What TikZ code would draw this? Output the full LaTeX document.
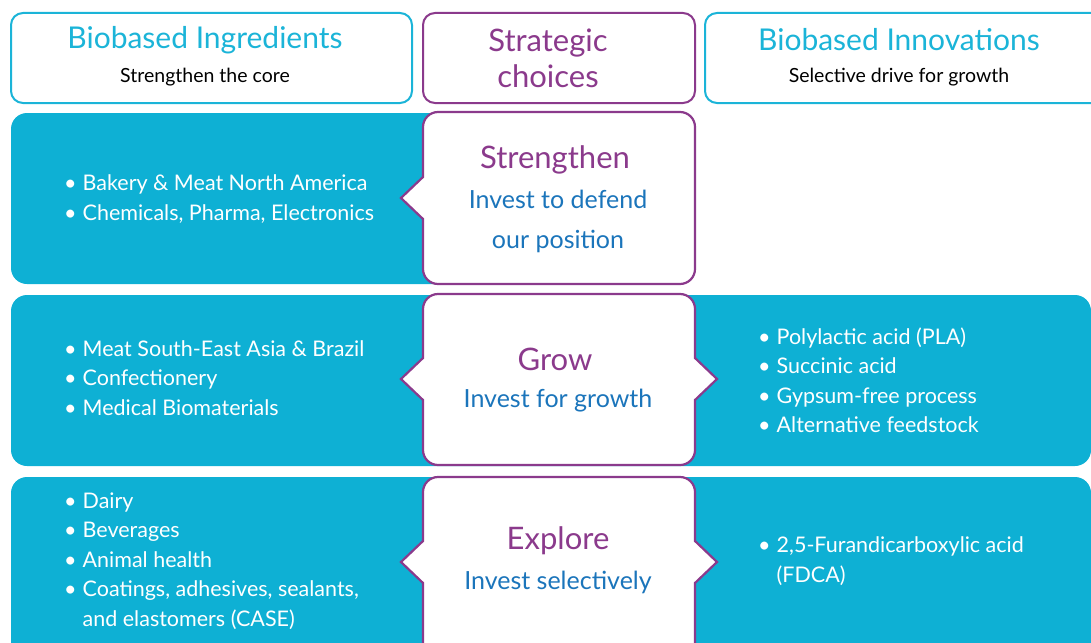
\documentclass[tikz,border=0pt]{standalone}
\usepackage{fontspec}
\setmainfont{Lato}
\usetikzlibrary{positioning}
\definecolor{bandcyan}{RGB}{14,176,212}
\definecolor{headcyan}{RGB}{27,180,216}
\definecolor{choicepurple}{RGB}{139,58,140}
\definecolor{investblue}{RGB}{27,117,187}
\newcommand{\bul}{\textbullet\hspace{6pt}}
\newcommand{\bulgap}{\hphantom{\textbullet\hspace{6pt}}}
\tikzset{
	head box/.style={
		draw=headcyan,
		line width=2pt,
		rounded corners=12pt,
		fill=white
	},
	band/.style={
		fill=bandcyan,
		rounded corners=16pt
	},
	choice box/.style={
		draw=choicepurple,
		line width=2.2pt,
		fill=white
	},
	head title/.style={
		text=headcyan,
		font=\fontsize{30}{32}\selectfont
	},
	head sub/.style={
		text=black,
		font=\fontsize{19.5}{22}\selectfont
	},
	item list/.style={
		text=white,
		align=left,
		anchor=west,
		inner sep=0pt,
		font=\fontsize{21.5}{29.5}\selectfont
	},
	choice title/.style={
		text=choicepurple,
		font=\fontsize{31}{34}\selectfont
	},
	choice sub/.style={
		text=investblue,
		align=center,
		font=\fontsize{25}{40}\selectfont
	}
}

\begin{document}
\begin{tikzpicture}[x=1pt,y=-1pt]
	\useasboundingbox (0,0) rectangle (1091,642);
	\clip (0,0) rectangle (1091,642);

	% headers
	\node[head box, minimum width=401pt, minimum height=90pt] (ingr box) at (211.5,58) {};
	\node[head box, draw=choicepurple, minimum width=272pt, minimum height=90pt] (strat box) at (559,58) {};
	\node[head box, minimum width=405pt, minimum height=90pt] (innov box) at (907.5,58) {};
	\node[head title] (ingr title) at (205,40) {Biobased Ingredients};
	\node[head sub] (ingr sub) at (205,77) {Strengthen the core};
	\node[choice title, align=center, font=\fontsize{31}{36}\selectfont] (strat) at (548,58) {Strategic\\choices};
	\node[head title] (innov title) at (899,40) {Biobased Innovations};
	\node[head sub] (innov sub) at (899,77) {Selective drive for growth};

	% bands
	\fill[band] (11,113) rectangle (560,284);
	\fill[band] (11,295) rectangle (1091,466);
	\fill[band] (11,477) rectangle (1091,665);

	% choice boxes
	\draw[choice box] (438,112) -- (680,112) arc(-90:0:15) -- (695,269) arc(0:90:15)
		-- (438,284) arc(90:180:15) -- (423,219) -- (401,198) -- (423,177) -- (423,127) arc(180:270:15) -- cycle;
	\draw[choice box] (438,294) -- (680,294) arc(-90:0:15) -- (695,358) -- (717,379) -- (695,400) -- (695,450) arc(0:90:15)
		-- (438,465) arc(90:180:15) -- (423,400) -- (401,379) -- (423,358) -- (423,309) arc(180:270:15) -- cycle;
	\draw[choice box] (438,477) -- (680,477) arc(-90:0:15) -- (695,541) -- (717,562) -- (695,583) -- (695,650) arc(0:90:15)
		-- (438,665) arc(90:180:15) -- (423,583) -- (401,562) -- (423,541) -- (423,492) arc(180:270:15) -- cycle;

	\node[choice title] (strengthen) at (555,160) {Strengthen};
	\node[choice sub] (defend) at (558,221) {Invest to defend\\our position};
	\node[choice title] (grow) at (555,359) {Grow};
	\node[choice sub] (grow sub) at (558,401) {Invest for growth};
	\node[choice title] (explore) at (558,541) {Explore};
	\node[choice sub] (explore sub) at (558,582) {Invest selectively};

	% lists
	\node[item list] (core list) at (64,199) {\bul Bakery \& Meat North America\\\bul Chemicals, Pharma, Electronics};
	\node[item list] (grow list) at (64,378) {\bul Meat South-East Asia \& Brazil\\\bul Confectionery\\\bul Medical Biomaterials};
	\node[item list] (explore list) at (64,561) {\bul Dairy\\\bul Beverages\\\bul Animal health\\\bul Coatings, adhesives, sealants,\\\bulgap and elastomers (CASE)};
	\node[item list] (innov grow list) at (758,380) {\bul Polylactic acid (PLA)\\\bul Succinic acid\\\bul Gypsum-free process\\\bul Alternative feedstock};
	\node[item list] (innov explore list) at (758,561) {\bul 2,5-Furandicarboxylic acid\\\bulgap (FDCA)};
\end{tikzpicture}
\end{document}
